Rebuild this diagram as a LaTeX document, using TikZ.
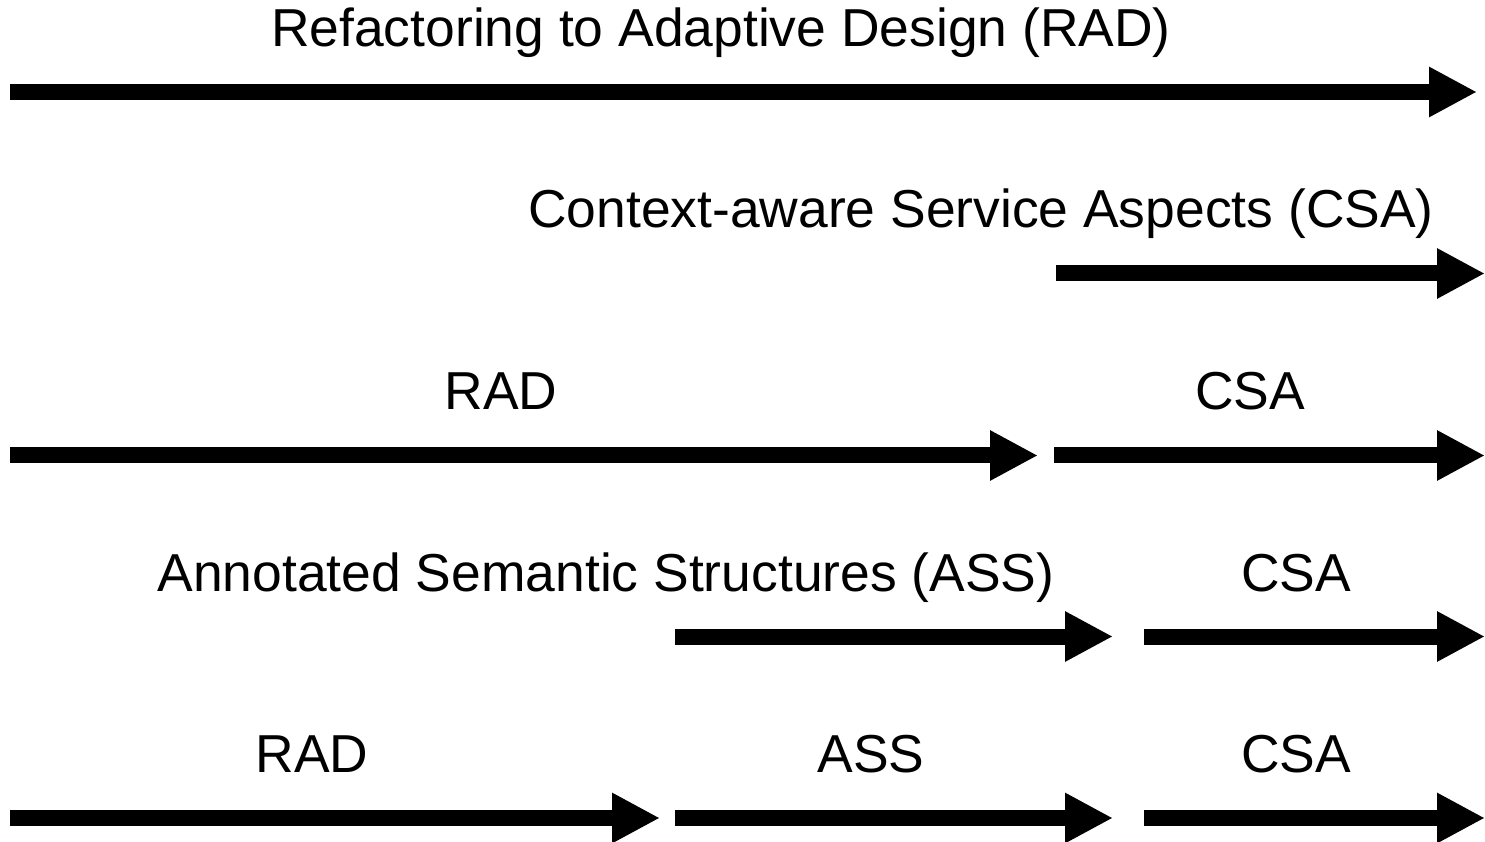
\documentclass[tikz,border=0pt]{standalone}
\usepackage{fontspec}
\setmainfont{Liberation Sans}
\usepackage{tikz}
\usetikzlibrary{arrows.meta, positioning}
\tikzstyle{phase} = [line width=0.32cm, -{Triangle[length=0.96cm, width=0.94cm]}]
\tikzstyle{caption} = [anchor=base, inner sep=0, font=\fontsize{30.4}{36}\selectfont]

\begin{document}
\begin{tikzpicture}
				\useasboundingbox (0, 0) rectangle (29.7, 16.82);

				% whole refactoring
				\coordinate (RADIn) at (0.2, 14.98);
				\coordinate (RADOut) at (29.54, 14.98);
				\draw [phase] (RADIn) -- (RADOut);
				\node (RADText) [caption] at (14.42, 15.89) {Refactoring to Adaptive Design (RAD)};

				% context-aware aspects only
				\coordinate (CSAIn) at (21.12, 11.35);
				\coordinate (CSAOut) at (29.7, 11.35);
				\draw [phase] (CSAIn) -- (CSAOut);
				\node (CSAText) [caption] at (19.62, 12.26) {Context-aware Service Aspects (CSA)};

				% RAD then CSA
				\coordinate (RAD2In) at (0.2, 7.71);
				\coordinate (RAD2Out) at (20.76, 7.71);
				\draw [phase] (RAD2In) -- (RAD2Out);
				\node (RAD2Text) [caption] at (10.02, 8.62) {RAD};

				\coordinate (CSA2In) at (21.08, 7.71);
				\coordinate (CSA2Out) at (29.7, 7.71);
				\draw [phase] (CSA2In) -- (CSA2Out);
				\node (CSA2Text) [caption] at (25.0, 8.62) {CSA};

				% ASS then CSA
				\coordinate (ASSIn) at (13.5, 4.09);
				\coordinate (ASSOut) at (22.26, 4.09);
				\draw [phase] (ASSIn) -- (ASSOut);
				\node (ASSText) [caption] at (12.12, 5.0) {Annotated Semantic Structures (ASS)};

				\coordinate (CSA3In) at (22.88, 4.09);
				\coordinate (CSA3Out) at (29.7, 4.09);
				\draw [phase] (CSA3In) -- (CSA3Out);
				\node (CSA3Text) [caption] at (25.92, 5.0) {CSA};

				% RAD, ASS and CSA
				\coordinate (RAD4In) at (0.2, 0.46);
				\coordinate (RAD4Out) at (13.2, 0.46);
				\draw [phase] (RAD4In) -- (RAD4Out);
				\node (RAD4Text) [caption] at (6.24, 1.37) {RAD};

				\coordinate (ASS4In) at (13.5, 0.46);
				\coordinate (ASS4Out) at (22.26, 0.46);
				\draw [phase] (ASS4In) -- (ASS4Out);
				\node (ASS4Text) [caption] at (17.42, 1.37) {ASS};

				\coordinate (CSA4In) at (22.88, 0.46);
				\coordinate (CSA4Out) at (29.7, 0.46);
				\draw [phase] (CSA4In) -- (CSA4Out);
				\node (CSA4Text) [caption] at (25.92, 1.37) {CSA};
			\end{tikzpicture}
\end{document}
